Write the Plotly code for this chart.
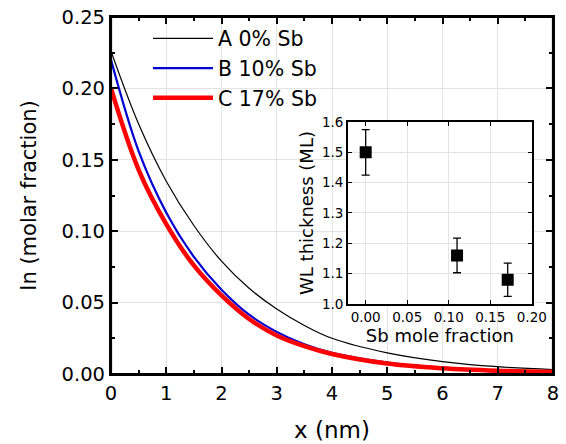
import plotly.graph_objects as go

# ---- main panel data ----
x_nm = [0, 0.5, 1, 1.5, 2, 2.5, 3, 3.5, 4, 5, 6, 7, 8]
in_A = [0.226, 0.175, 0.135, 0.104, 0.079, 0.060, 0.0455, 0.034, 0.025, 0.0148, 0.0087, 0.0051, 0.0031]
in_B = [0.220, 0.156, 0.113, 0.082, 0.059, 0.0415, 0.0295, 0.0208, 0.0148, 0.0080, 0.0043, 0.0023, 0.0013]
in_C = [0.200, 0.143, 0.105, 0.076, 0.055, 0.0385, 0.027, 0.0195, 0.0140, 0.0073, 0.0040, 0.0023, 0.0015]
names = ["A 0% Sb", "B 10% Sb", "C 17% Sb"]
y_ticks = [0.00, 0.05, 0.10, 0.15, 0.20, 0.25]
x_ticks = [0, 1, 2, 3, 4, 5, 6, 7, 8]
x_range = [0, 8]
y_range = [0, 0.25]

# ---- inset data ----
sb_frac = [0.0, 0.11, 0.171]
wl_thick = [1.50, 1.16, 1.08]
wl_err = [0.075, 0.057, 0.055]
inset_x_ticks = [0.00, 0.05, 0.10, 0.15, 0.20]
inset_y_ticks = [1.0, 1.1, 1.2, 1.3, 1.4, 1.5, 1.6]

FONT = "DejaVu Sans"
GRID = "#e4e4e4"

fig = go.Figure()
fig.add_trace(go.Scatter(x=x_nm, y=in_A, mode="lines", name=names[0],
                         line=dict(color="black", width=1.2, shape="spline", smoothing=1)))
fig.add_trace(go.Scatter(x=x_nm, y=in_B, mode="lines", name=names[1],
                         line=dict(color="#0000d0", width=2.2, shape="spline", smoothing=1)))
fig.add_trace(go.Scatter(x=x_nm, y=in_C, mode="lines", name=names[2],
                         line=dict(color="#ff0000", width=4.5, shape="spline", smoothing=1)))
fig.add_trace(go.Scatter(x=sb_frac, y=wl_thick, mode="markers", showlegend=False,
                         xaxis="x2", yaxis="y2",
                         marker=dict(symbol="square", size=12, color="black"),
                         error_y=dict(type="data", array=wl_err, color="black",
                                      thickness=1.3, width=4)))

axis_common = dict(showline=True, linecolor="black", mirror="ticks",
                   ticks="inside", tickcolor="black", showgrid=True,
                   gridcolor=GRID, gridwidth=1, zeroline=False)

fig.update_layout(
    width=566, height=444,
    margin=dict(l=111, r=13, t=17, b=70),
    paper_bgcolor="white", plot_bgcolor="white",
    font=dict(family=FONT, color="black"),
    xaxis=dict(**axis_common, automargin="left",
               range=x_range, tickmode="array", tickvals=x_ticks,
               linewidth=2.2, ticklen=7, tickwidth=1.8, tickfont=dict(size=19.5),
               minor=dict(dtick=0.5, tick0=0, ticklen=4, tickwidth=1.5, ticks="inside",
                          tickcolor="black", showgrid=False),
               title=dict(text="x (nm)", font=dict(size=23), standoff=18)),
    yaxis=dict(**axis_common, automargin="bottom",
               range=y_range, tickmode="array", tickvals=y_ticks, tickformat=".2f",
               linewidth=2.2, ticklen=7, tickwidth=1.8, tickfont=dict(size=19.5),
               minor=dict(dtick=0.025, tick0=0, ticklen=4, tickwidth=1.5, ticks="inside",
                          tickcolor="black", showgrid=False),
               title=dict(text="In (molar fraction)", font=dict(size=21), standoff=19)),
    xaxis2=dict(**axis_common, automargin=False, domain=[0.536, 0.952], anchor="y2",
                range=[-0.0214, 0.2], tickmode="array", tickvals=inset_x_ticks,
                tickformat=".2f",
                linewidth=1.5, ticklen=4, tickwidth=1.2, tickfont=dict(size=13.5),
                title=dict(text="Sb mole fraction", font=dict(size=18), standoff=2)),
    yaxis2=dict(**axis_common, automargin=False, domain=[0.196, 0.706], anchor="x2",
                range=[1.0, 1.6], tickmode="array", tickvals=inset_y_ticks,
                tickformat=".1f",
                linewidth=1.5, ticklen=4, tickwidth=1.2, tickfont=dict(size=13.5),
                title=dict(text="WL thickness (ML)", font=dict(size=18), standoff=4)),
    legend=dict(x=0.0837, y=0.9956, xanchor="left", yanchor="top",
                bgcolor="rgba(0,0,0,0)", font=dict(size=20.5), tracegroupgap=0,
                itemwidth=60),
    showlegend=True,
    shapes=[dict(type="rect", xref="x domain", yref="y domain", x0=0, x1=1, y0=0, y1=1,
                 line=dict(color="black", width=2.2), fillcolor="rgba(0,0,0,0)",
                 layer="above")],
)

fig.write_html("out.html", config={"displayModeBar": False},
               post_script="document.body.style.margin='0';")
